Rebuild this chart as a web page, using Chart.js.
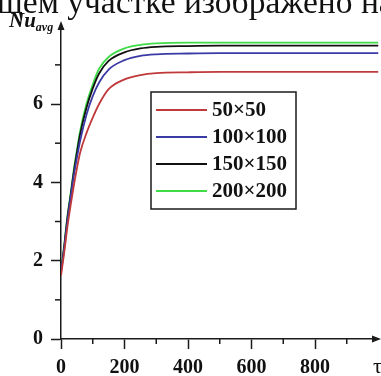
<!DOCTYPE html>
<html>
<head>
<meta charset="utf-8">
<script src="https://cdn.jsdelivr.net/npm/chart.js@4.4.1/dist/chart.umd.min.js"></script>
<style>
  html, body { margin: 0; padding: 0; background: #fff; overflow: hidden; }
  #wrap { position: relative; width: 381px; height: 376px; overflow: hidden; }
  #chart { position: absolute; left: 0; top: 0; }
  .lbl { position: absolute; color: #111; white-space: nowrap; font-family: "Liberation Serif", "Times New Roman", serif; }
  #head { left: -3px; top: -15px; font-size: 33.5px; line-height: 33px; }
  #ylab { left: 9px; top: 10px; font-size: 21px; line-height: 21px; font-weight: bold; font-style: italic; }
  #ylab span { font-size: 12px; position: relative; top: 4px; }
  #xlab { left: 373px; top: 355px; font-size: 22px; line-height: 22px; }
</style>
</head>
<body>
<div id="wrap">
  <canvas id="chart" width="381" height="376"></canvas>
  <div class="lbl" id="head">щем участке изображено на</div>
  <div class="lbl" id="ylab">Nu<span>avg</span></div>
  <div class="lbl" id="xlab">τ</div>
</div>
<script>
// time points (tau) and average Nusselt number per grid
const tau = [0, 10, 20, 30, 40, 50, 60, 80, 100, 120, 150, 200, 250, 300, 400, 500, 600, 700, 800, 900, 1000];
const grid50 = [1.62, 2.2, 2.85, 3.4, 3.9, 4.35, 4.75, 5.25, 5.65, 6.0, 6.38, 6.63, 6.74, 6.79, 6.81, 6.82, 6.82, 6.82, 6.82, 6.82, 6.82];
const grid100 = [1.7, 2.3, 3.0, 3.6, 4.15, 4.62, 5.05, 5.72, 6.2, 6.55, 6.88, 7.12, 7.23, 7.27, 7.29, 7.3, 7.3, 7.3, 7.3, 7.3, 7.3];
const grid150 = [1.72, 2.35, 3.08, 3.65, 4.25, 4.75, 5.22, 5.9, 6.4, 6.78, 7.1, 7.32, 7.42, 7.46, 7.48, 7.49, 7.49, 7.49, 7.49, 7.49, 7.49];
const grid200 = [1.76, 2.4, 3.12, 3.7, 4.3, 4.82, 5.3, 6.0, 6.5, 6.9, 7.2, 7.42, 7.51, 7.55, 7.57, 7.57, 7.57, 7.57, 7.57, 7.57, 7.57];
const seriesLabels = ["50×50", "100×100", "150×150", "200×200"];
const seriesColors = ["#c0393b", "#3b3ba6", "#111111", "#3fdc48"];
const xTicks = [0, 200, 400, 600, 800];
const yTicks = [0, 2, 4, 6];
const xMinor = [100, 300, 500, 700, 900];
const yMinor = [1, 3, 5, 7];

const AXIS = "#1a1a1a";
const tickFont = { family: "'Liberation Serif', 'Times New Roman', serif", size: 20, weight: "bold" };

function toPoints(vals) {
  return tau.map((t, i) => ({ x: t, y: vals[i] }));
}

// minor ticks and arrow heads on the axes
const axisExtras = {
  id: "axisExtras",
  afterDraw(chart) {
    const ctx = chart.ctx;
    const xs = chart.scales.x, ys = chart.scales.y;
    const a = chart.chartArea;
    ctx.save();
    ctx.strokeStyle = AXIS;
    ctx.fillStyle = AXIS;
    ctx.lineWidth = 1.5;
    xMinor.forEach(v => {
      const px = xs.getPixelForValue(v);
      ctx.beginPath(); ctx.moveTo(px, a.bottom); ctx.lineTo(px, a.bottom + 5); ctx.stroke();
    });
    yMinor.forEach(v => {
      const py = ys.getPixelForValue(v);
      ctx.beginPath(); ctx.moveTo(a.left, py); ctx.lineTo(a.left - 6, py); ctx.stroke();
    });
    // y arrow
    ctx.beginPath(); ctx.moveTo(a.left, a.top); ctx.lineTo(a.left, 26); ctx.stroke();
    ctx.beginPath();
    ctx.moveTo(a.left, 21); ctx.lineTo(a.left - 3.5, 30); ctx.lineTo(a.left + 3.5, 30); ctx.closePath(); ctx.fill();
    // x arrow
    ctx.beginPath(); ctx.moveTo(a.right, a.bottom); ctx.lineTo(376, a.bottom); ctx.stroke();
    ctx.beginPath();
    ctx.moveTo(381, a.bottom); ctx.lineTo(372, a.bottom - 3.5); ctx.lineTo(372, a.bottom + 3.5); ctx.closePath(); ctx.fill();
    ctx.restore();
  }
};

// boxed legend inside the plot
const boxLegend = {
  id: "boxLegend",
  afterDraw(chart) {
    const ctx = chart.ctx;
    const left = 151, top = 92, w = 145, h = 117;
    ctx.save();
    ctx.fillStyle = "#fff";
    ctx.fillRect(left, top, w, h);
    ctx.strokeStyle = AXIS;
    ctx.lineWidth = 1.5;
    ctx.strokeRect(left, top, w, h);
    ctx.font = "bold 21px 'Liberation Serif', 'Times New Roman', serif";
    ctx.textBaseline = "middle";
    chart.data.datasets.forEach((ds, i) => {
      const y = 110 + i * 27;
      ctx.strokeStyle = ds.borderColor;
      ctx.lineWidth = 2;
      ctx.beginPath(); ctx.moveTo(156, y); ctx.lineTo(207, y); ctx.stroke();
      ctx.fillStyle = "#111";
      ctx.fillText(ds.label, 212, y + 1);
    });
    ctx.restore();
  }
};

const allSeries = [grid50, grid100, grid150, grid200];

new Chart(document.getElementById("chart"), {
  type: "line",
  data: {
    datasets: allSeries.map((vals, i) => ({
      label: seriesLabels[i],
      data: toPoints(vals),
      borderColor: seriesColors[i],
      borderWidth: 1.8,
      pointRadius: 0,
      fill: false,
      cubicInterpolationMode: "monotone"
    }))
  },
  options: {
    responsive: false,
    animation: false,
    devicePixelRatio: 1,
    layout: { padding: { top: 25.7, right: 2.5, left: 0, bottom: 0 } },
    plugins: { legend: { display: false }, tooltip: { enabled: false } },
    scales: {
      x: {
        type: "linear",
        min: 0,
        max: 1000,
        afterFit: s => { s.height = 37; },
        afterBuildTicks: s => { s.ticks = xTicks.map(v => ({ value: v })); },
        grid: { display: true, drawOnChartArea: false, drawTicks: true, tickLength: 10, tickWidth: 1.5, tickColor: AXIS },
        border: { display: true, color: AXIS, width: 1.5 },
        ticks: { font: tickFont, color: "#111", padding: 7, maxRotation: 0 }
      },
      y: {
        min: 0,
        max: 8,
        afterFit: s => { s.width = 61; },
        afterBuildTicks: s => { s.ticks = yTicks.map(v => ({ value: v })); },
        grid: { display: true, drawOnChartArea: false, drawTicks: true, tickLength: 10, tickWidth: 1.5, tickColor: AXIS },
        border: { display: true, color: AXIS, width: 1.5 },
        ticks: { font: tickFont, color: "#111", padding: 8 }
      }
    }
  },
  plugins: [axisExtras, boxLegend]
});
</script>
</body>
</html>
